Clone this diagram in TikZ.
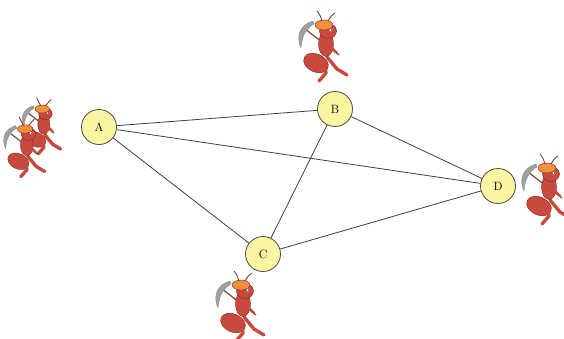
\documentclass[tikz,border=0pt]{standalone}
\begin{document}
\definecolor{cityfill}{RGB}{250,245,160}
\definecolor{antred}{RGB}{200,74,62}
\definecolor{antdark}{RGB}{125,38,34}
\definecolor{helmet}{RGB}{238,145,58}
\definecolor{pickgray}{RGB}{160,160,160}
\definecolor{handle}{RGB}{110,80,60}
\tikzset{
  city/.style={circle, draw=black!70, fill=cityfill, line width=0.8pt,
    minimum size=35pt, inner sep=0pt, font=\fontsize{12}{14}\selectfont},
  road/.style={draw=black!75, line width=0.8pt},
  antleg/.style={draw=antred, line width=3.4pt, line cap=round, line join=round},
  ant/.pic={
    % pickaxe handle and blade
    \draw[handle, line width=1.2pt] (-20,-16) -- (14,10);
    \fill[pickgray, draw=black!50, line width=0.3pt]
      (-12,-24) .. controls (-26,-20) and (-29,-8) .. (-24,3)
      .. controls (-23,-8) and (-20,-16) .. (-11,-21) -- cycle;
    % gaster
    \fill[antred, draw=antdark, line width=0.4pt, rotate around={-25:(-9,18)}]
      (-9,18) ellipse (13 and 9);
    % legs
    \draw[antleg] (2,12) -- (12,24) -- (22,30);
    \draw[antleg] (-1,16) -- (1,28) -- (-6,36);
    % thorax
    \fill[antred, draw=antdark, line width=0.4pt] (1,-1) ellipse (7.5 and 12.5);
    % arm holding the handle
    \draw[antleg, line width=2.4pt] (2,-6) -- (8,4) -- (12,8);
    % face
    \fill[antred, draw=antdark, line width=0.4pt] (3,-14) ellipse (8.5 and 7.5);
    % helmet
    \fill[helmet, draw=antdark, line width=0.4pt] (-1,-20) ellipse (9 and 5);
    % antennae
    \draw[antdark, line width=0.8pt] (-3,-24) .. controls (-5,-30) .. (-8,-34);
    \draw[antdark, line width=0.8pt] (3,-24) .. controls (6,-29) .. (10,-32);
    % eye
    \fill[white] (6,-15) circle (1.6);
    \fill[black] (6.6,-15) circle (0.7);
  }
}
\begin{tikzpicture}[x=1pt, y=-1pt]
  \useasboundingbox (0,0) rectangle (564,338);
  \fill[white] (0,0) rectangle (564,338);

  % the ants
  \pic[scale=0.8] at (43,125) {ant};
  \pic[scale=0.85] at (26,146) {ant};
  \pic at (325,45) {ant};
  \pic at (242,305) {ant};
  \pic at (548,188) {ant};

  % the cities
  \node[city] (A) at (99,127) {A};
  \node[city] (B) at (335,109) {B};
  \node[city] (C) at (263,254) {C};
  \node[city] (D) at (498,186) {D};

  % the roads
  \draw[road] (A) -- (B);
  \draw[road] (A) -- (D);
  \draw[road] (A) -- (C);
  \draw[road] (B) -- (C);
  \draw[road] (B) -- (D);
  \draw[road] (C) -- (D);
\end{tikzpicture}
\end{document}
